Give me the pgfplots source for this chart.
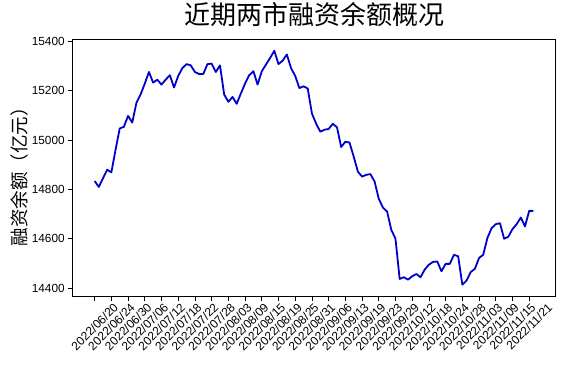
\documentclass[border=0pt]{standalone}
\usepackage{pgfplots}
\pgfplotsset{compat=1.18}
\usepackage{fontspec}
\setmainfont{Liberation Sans}
\newfontfamily\cjk{Noto Sans CJK SC}
\definecolor{mblue}{RGB}{0,0,205}
\newcommand{\rl}[1]{\rotatebox{45}{2022/#1}}
\begin{document}
\begin{tikzpicture}
\begin{axis}[
  at={(0pt,0pt)}, anchor=south west,
  width=482.6pt, height=257pt, scale only axis,
  xmin=-5.25, xmax=110.25, ymin=14365, ymax=15407,
  axis line style={black, line width=0.9pt},
  tick align=outside, major tick length=4.5pt,
  tick style={black, line width=0.8pt},
  xtick pos=bottom, ytick pos=left,
  scaled y ticks=false,
  xtick={0,4,...,104},
  xticklabels={\rl{06/20},\rl{06/24},\rl{06/30},\rl{07/06},\rl{07/12},\rl{07/18},\rl{07/22},\rl{07/28},\rl{08/03},\rl{08/09},\rl{08/15},\rl{08/19},\rl{08/25},\rl{08/31},\rl{09/06},\rl{09/13},\rl{09/19},\rl{09/23},\rl{09/29},\rl{10/12},\rl{10/18},\rl{10/24},\rl{10/28},\rl{11/03},\rl{11/09},\rl{11/15},\rl{11/21}},
  xticklabel style={anchor=north, font=\fontsize{12}{14}\selectfont, inner sep=1pt},
  ytick={14400,14600,14800,15000,15200,15400},
  yticklabel style={font=\fontsize{11.8}{14}\selectfont, /pgf/number format/1000 sep={}, /pgf/number format/assume math mode=true},
  ylabel={\cjk 融资余额（亿元）},
  ylabel style={at={(axis description cs:-0.1113,0.485)}, anchor=center, rotate=0, font=\fontsize{18.5}{20}\selectfont},
  title={\cjk 近期两市融资余额概况},
  title style={at={(axis description cs:0.5,1.0728)}, anchor=center, font=\fontsize{26}{28}\selectfont},
]
\addplot[color=mblue, line width=1.8pt, mark=none, line join=round] table {
x y
0 14834
1 14810
2 14845
3 14880
4 14869
5 14960
6 15047
7 15054
8 15098
9 15071
10 15151
11 15185
12 15229
13 15276
14 15233
15 15245
16 15225
17 15245
18 15263
19 15213
20 15260
21 15292
22 15308
23 15303
24 15276
25 15268
26 15268
27 15308
28 15310
29 15276
30 15303
31 15185
32 15155
33 15175
34 15147
35 15189
36 15229
37 15263
38 15279
39 15225
40 15279
41 15306
42 15333
43 15362
44 15308
45 15322
46 15347
47 15292
48 15260
49 15211
50 15218
51 15209
52 15108
53 15067
54 15034
55 15042
56 15045
57 15066
58 15052
59 14972
60 14993
61 14990
62 14933
63 14872
64 14852
65 14859
66 14862
67 14832
68 14762
69 14726
70 14710
71 14636
72 14600
73 14437
74 14444
75 14434
76 14448
77 14457
78 14444
79 14475
80 14495
81 14506
82 14508
83 14468
84 14498
85 14498
86 14535
87 14529
88 14414
89 14430
90 14465
91 14478
92 14522
93 14535
94 14603
95 14643
96 14659
97 14663
98 14600
99 14608
100 14639
101 14659
102 14686
103 14650
104 14713
105 14713
};
\end{axis}
\pgfresetboundingbox
\path[use as bounding box] (-72.7pt,-74.3pt) rectangle (512.3pt,296.7pt);
\end{tikzpicture}
\end{document}
